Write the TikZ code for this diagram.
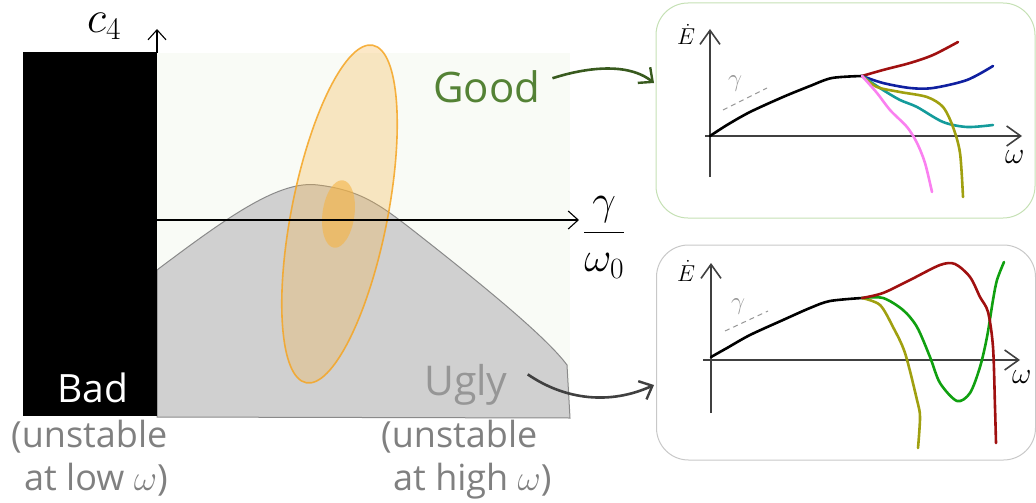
\RequirePackage{fix-cm}
\documentclass[tikz,border=0pt]{standalone}
\usepackage{fontspec}
\setmainfont{Open Sans}
\usetikzlibrary{arrows.meta}
\definecolor{goodgreen}{RGB}{84,130,53}
\definecolor{goodarrow}{RGB}{56,90,30}
\definecolor{lightbg}{RGB}{249,251,246}
\definecolor{grayfill}{RGB}{208,208,208}
\definecolor{grayline}{RGB}{138,138,138}
\definecolor{ellorange}{RGB}{245,165,35}
\definecolor{ellfill}{RGB}{245,180,70}
\definecolor{txtgray}{RGB}{128,128,128}
\definecolor{uglygray}{RGB}{150,150,150}
\definecolor{panelgreen}{RGB}{197,224,180}
\definecolor{panelgray}{RGB}{200,200,200}
\definecolor{axgray}{RGB}{64,64,64}
\definecolor{cred}{RGB}{160,16,16}
\definecolor{cblue}{RGB}{16,32,160}
\definecolor{cteal}{RGB}{20,155,155}
\definecolor{colive}{RGB}{160,160,16}
\definecolor{cpink}{RGB}{250,128,240}
\definecolor{cgreen}{RGB}{16,160,16}
\begin{document}
\begin{tikzpicture}[x=1pt,y=-1pt,
  mainaxis/.style={draw=black,line width=1.1pt,-{Straight Barb[length=10pt,width=18pt,line width=1.1pt]}},
  panelaxis/.style={draw=axgray,line width=1.8pt,-{Straight Barb[length=14pt,width=20pt,line width=1.6pt]}},
  panelbox/.style={draw,rounded corners=32pt,line width=1pt,minimum width=379pt,minimum height=215pt,inner sep=0pt},
  curve/.style={line width=2.6pt,line cap=round,line join=round},
  bigtxt/.style={inner sep=0pt,anchor=base west},
  pointer/.style={line width=2.6pt,-{Straight Barb[length=11pt,width=20pt,line width=2.4pt]}},
  slope/.style={draw=uglygray,line width=1pt,dash pattern=on 5pt off 4pt},
]
\useasboundingbox (0,0) rectangle (1036,503);
% good background
\fill[lightbg] (157,53) rectangle (570,400);
% ugly region
\filldraw[fill=grayfill,draw=grayline,line width=1pt]
  (157,417) -- (157,270) .. controls (230,215) and (280,180) .. (318,185)
  .. controls (360,190) and (380,205) .. (410,228)
  .. controls (470,275) and (545,335) .. (567,365) -- (570,418) -- cycle;
% bad region
\fill[black] (23,52) rectangle (157,416);
% ellipses
\filldraw[shift={(339.5,214)},rotate=78.8,fill=ellfill,fill opacity=0.3,draw=ellorange,draw opacity=0.85,line width=1.6pt]
  (0,0) ellipse [x radius=172pt,y radius=48pt];
\fill[shift={(338.5,214)},rotate=82.5,fill=ellfill,fill opacity=0.6]
  (0,0) ellipse [x radius=34pt,y radius=16pt];
% axes
\coordinate (o) at (157,220);
\coordinate (xend) at (579,220);
\coordinate (ybot) at (157,53);
\coordinate (yend) at (157,29);
\draw[mainaxis] (o) -- (xend);
\draw[mainaxis] (ybot) -- (yend);
\node[bigtxt,font=\fontsize{45}{52}\selectfont] (c4) at (87,33) {$c_4$};
\node[bigtxt,font=\fontsize{42}{50}\selectfont] (frac) at (583,243) {$\displaystyle\frac{\gamma}{\omega_0}$};
% labels
\node[bigtxt,text=goodgreen,font=\fontsize{42}{50}\selectfont] (good) at (433,102) {Good};
\node[bigtxt,text=white,font=\fontsize{39}{47}\selectfont] (bad) at (57,402) {Bad};
\node[bigtxt,text=uglygray,font=\fontsize{41}{49}\selectfont] (ugly) at (424,395) {Ugly};
\node[bigtxt,text=txtgray,font=\fontsize{36}{43}\selectfont] (lowa) at (11,447) {(unstable};
\node[bigtxt,text=txtgray,font=\fontsize{36}{43}\selectfont] (lowb) at (24,490) {at low $\omega$)};
\node[bigtxt,text=txtgray,font=\fontsize{36}{43}\selectfont] (higha) at (381,447) {(unstable};
\node[bigtxt,text=txtgray,font=\fontsize{36}{43}\selectfont] (highb) at (393,490) {at high $\omega$)};
% panels
\node[panelbox,draw=panelgreen] (p1) at (845.5,110.5) {};
\node[panelbox,draw=panelgray] (p2) at (846,352.5) {};
\coordinate (goodend) at (654,83);
\coordinate (uglyend) at (654,385);
\draw[pointer,draw=goodarrow] (good.east) ++(12,-8) .. controls (578,70) and (625,60) .. (goodend);
\draw[pointer,draw=axgray] (ugly.east) ++(20,-10) .. controls (565,400) and (610,405) .. (uglyend);
% ---- top panel
\coordinate (txs) at (705,136);
\coordinate (txe) at (1022,136);
\coordinate (tys) at (710,177);
\coordinate (tye) at (710,29);
\draw[panelaxis] (txs) -- (txe);
\draw[panelaxis] (tys) -- (tye);
\node[bigtxt,font=\fontsize{23}{26}\selectfont] (tE) at (677,45) {$\dot{E}$};
\node[bigtxt,font=\fontsize{30}{34}\selectfont] (tw) at (1005,163) {$\omega$};
\node[bigtxt,text=uglygray,font=\fontsize{25}{28}\selectfont] (tg) at (728,87) {$\gamma$};
\coordinate (tda) at (723,110);
\coordinate (tdb) at (767,88);
\draw[slope] (tda) -- (tdb);
\draw[curve,black] plot[smooth] coordinates {(710,136) (727,125) (750,112) (783,97) (810,86) (832,78) (862,76)};
\draw[curve,cred] plot[smooth] coordinates {(862,76) (883,70) (910,63) (933,55) (958,42)};
\draw[curve,cblue] plot[smooth] coordinates {(862,76) (883,83) (910,88) (933,88) (967,80) (993,66)};
\draw[curve,cteal] plot[smooth] coordinates {(862,76) (883,90) (900,100) (917,107) (943,122) (967,127) (993,125)};
\draw[curve,colive] plot[smooth] coordinates {(862,76) (877,87) (900,92) (927,97) (943,107) (953,127) (960,153) (963,197)};
\draw[curve,cpink] plot[smooth] coordinates {(862,76) (877,93) (890,110) (907,127) (917,143) (925,163) (932,192)};
% ---- bottom panel
\coordinate (bxs) at (703,360);
\coordinate (bxe) at (1020,360);
\coordinate (bys) at (711,413);
\coordinate (bye) at (711,263);
\draw[panelaxis] (bxs) -- (bxe);
\draw[panelaxis] (bys) -- (bye);
\node[bigtxt,font=\fontsize{23}{26}\selectfont] (bE) at (677,281) {$\dot{E}$};
\node[bigtxt,font=\fontsize{30}{34}\selectfont] (bw) at (1012,383) {$\omega$};
\node[bigtxt,text=uglygray,font=\fontsize{25}{28}\selectfont] (bg) at (731,309) {$\gamma$};
\coordinate (bda) at (725,331);
\coordinate (bdb) at (768,311);
\draw[slope] (bda) -- (bdb);
\draw[curve,black] plot[smooth] coordinates {(711,357) (727,348) (750,335) (783,320) (810,308) (830,301) (862,298)};
\draw[curve,colive] plot[smooth] coordinates {(862,298) (880,305) (893,327) (905,353) (917,400) (920,417) (918,448)};
\draw[curve,cgreen] plot[smooth] coordinates {(862,298) (883,298) (903,310) (917,327) (930,357) (940,383) (957,401) (970,393) (980,367) (987,337) (993,300) (997,280) (1004,262)};
\draw[curve,cred] plot[smooth] coordinates {(862,298) (883,293) (910,280) (940,265) (955,264) (970,277) (980,297) (988,312) (993,347) (995,407) (996,443)};
\end{tikzpicture}
\end{document}
